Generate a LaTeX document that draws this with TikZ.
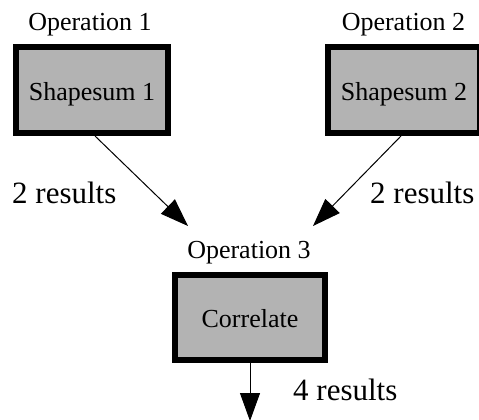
\documentclass[tikz,border=0pt]{standalone}
\usepackage{fontspec}
\setmainfont{Liberation Serif}
\usetikzlibrary{arrows.meta}
\definecolor{boxgray}{HTML}{B3B3B3}
\begin{document}
\begin{tikzpicture}[x=1pt,y=-1pt,
  opbox/.style={draw=black, line width=6pt, fill=boxgray, minimum width=152pt, minimum height=86pt,
    inner sep=0pt, text height=20pt, text depth=0pt, font=\fontsize{26}{30}\selectfont},
  oplabel/.style={font=\fontsize{26}{30}\selectfont, anchor=base, inner sep=0pt},
  reslabel/.style={font=\fontsize{31}{36}\selectfont, anchor=base west, inner sep=0pt},
  flow/.style={line width=1pt, -{Triangle[length=28pt,width=20pt]}}]
\useasboundingbox (0,0) rectangle (479,420);
\node[opbox] (s1) at (92,90) {Shapesum 1};
\node[opbox] (s2) at (404,90) {Shapesum 2};
\node[opbox, minimum width=150pt, minimum height=85pt] (c) at (250,317.5) {Correlate};
\node[oplabel] (l1) at (90,31) {Operation 1};
\node[oplabel] (l2) at (403.5,31) {Operation 2};
\node[oplabel] (l3) at (249,258) {Operation 3};
\coordinate (in1) at (188,226);
\coordinate (in2) at (313,226);
\coordinate (out) at (250,421);
\draw[flow] ([xshift=3pt]s1.south) -- (in1);
\draw[flow] ([xshift=-3pt]s2.south) -- (in2);
\draw[flow] (c.south) -- (out);
\node[reslabel] (r1) at (12,203) {2 results};
\node[reslabel] (r2) at (370,203) {2 results};
\node[reslabel] (r3) at (293,400) {4 results};
\end{tikzpicture}
\end{document}
